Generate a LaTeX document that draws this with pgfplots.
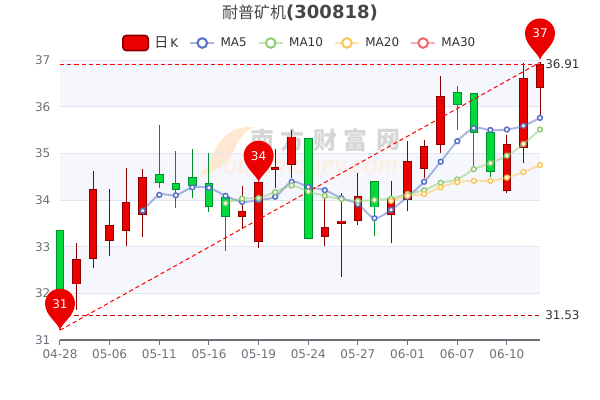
\documentclass[border=0pt]{standalone}
\usepackage{fontspec}
\usepackage{pgfplots}
\usepackage{pgfplotstable}
\pgfplotsset{compat=1.18}
\setmainfont{DejaVu Sans}
\newfontfamily\cjk{Noto Sans CJK SC}
\newfontfamily\wmserif{Liberation Serif}

\definecolor{upfill}{HTML}{EC0000}
\definecolor{upline}{HTML}{8A0000}
\definecolor{dnfill}{HTML}{00DA3C}
\definecolor{dnline}{HTML}{008F28}
\definecolor{maA}{HTML}{5470C6}
\definecolor{maB}{HTML}{91CC75}
\definecolor{maC}{HTML}{FAC858}
\definecolor{maD}{HTML}{EE6666}
\definecolor{gridc}{HTML}{E0E6F1}
\definecolor{bandc}{HTML}{F5F7FC}
\definecolor{axisc}{HTML}{6E7079}
\definecolor{titlec}{HTML}{464646}
\definecolor{textc}{HTML}{333333}

% i top bottom low high
\pgfplotstableread{
i top bot low high
1 32.73 32.19 31.64 33.08
2 34.24 32.74 32.55 34.62
3 33.46 33.13 32.81 34.24
4 33.96 33.33 33.02 34.69
5 34.49 33.68 33.21 34.66
11 33.77 33.64 33.37 34.31
12 34.39 33.10 32.98 34.39
13 34.71 34.64 34.25 35.10
14 35.36 34.75 34.47 35.50
16 33.43 33.20 33.02 34.20
17 33.56 33.49 32.36 34.15
18 34.09 33.55 33.46 34.57
20 34.04 33.68 33.08 34.40
21 34.83 34.01 33.76 35.26
22 35.16 34.66 34.47 35.29
23 36.23 35.18 35.01 36.66
27 35.20 34.20 34.14 35.39
28 36.61 35.11 34.80 36.93
29 36.91 36.41 35.70 36.95
}\upcandles
\pgfplotstableread{
i top bot low high
0 33.36 31.53 31.21 33.36
6 34.56 34.37 34.25 35.61
7 34.36 34.21 33.83 35.05
8 34.50 34.31 34.04 35.09
9 34.36 33.86 33.75 35.00
10 34.06 33.64 32.91 34.10
15 35.32 33.17 33.17 35.32
19 34.40 33.84 33.23 34.40
24 36.31 36.04 35.50 36.44
25 36.29 35.44 34.71 36.29
26 35.45 34.60 34.50 35.45
}\dncandles

\pgfdeclareplotmark{pin}{%
  \pgfpathmoveto{\pgfqpoint{0pt}{0pt}}%
  \pgfpathcurveto{\pgfqpoint{-0.9pt}{5pt}}{\pgfqpoint{-11.25pt}{11pt}}{\pgfqpoint{-11.25pt}{19.9pt}}%
  \pgfpatharc{180}{0}{11.25pt}%
  \pgfpathcurveto{\pgfqpoint{11.25pt}{11pt}}{\pgfqpoint{0.9pt}{5pt}}{\pgfqpoint{0pt}{0pt}}%
  \pgfpathclose
  \pgfusepathqfill
}

\pgfplotsset{
  ma/.style={forget plot, smooth, line width=1.5pt, draw=#1, draw opacity=0.5, mark=*, mark size=1.8pt,
    mark options={solid, draw=#1, draw opacity=1, fill=white, line width=1.1pt}},
  malegend/.style={legend image code/.code={
    \draw[#1, line width=1.5pt, draw opacity=0.5] (0pt,0pt) -- (18pt,0pt);
    \draw[#1, line width=1.5pt, fill=white] (9pt,0pt) circle (3.6pt);}},
  wick/.style={forget plot, draw=none, mark=none, error bars/.cd, y dir=minus, y explicit, error mark=none,
    error bar style={solid, draw=#1, line width=0.75pt}},
  body/.style 2 args={forget plot, draw=none, mark=none, error bars/.cd, y dir=minus, y explicit, error mark=none,
    error bar style={solid, draw=#1, line width=#2}},
}

\begin{document}
\begin{tikzpicture}
\begin{scope}[x=0.75pt, y=-0.75pt, shift={(-45pt,255pt)}]
  \path[use as bounding box] (0,0) rectangle (600,400);
  \fill[bandc] (60,60) rectangle (540,106.67);
  \fill[bandc] (60,153.33) rectangle (540,200);
  \fill[bandc] (60,246.67) rectangle (540,293.33);
  % watermark
  \fill[orange!18!white] (255,127) .. controls (232,126) and (222,136) .. (214,152)
     .. controls (210,163) and (206,171) .. (199,175)
     .. controls (222,172) and (231,158) .. (236,146)
     .. controls (240,137) and (246,130) .. (255,127) -- cycle;
  \foreach \xx/\ch in {262/南,292/方,325/财,355/富,388/网}
    \node[text=black!16, font=\cjk\bfseries\fontsize{18}{20}\selectfont] at (\xx,140) {\ch};
  \node[text=orange!14!white, font=\wmserif\itshape\fontsize{21}{24}\selectfont, anchor=east] at (403,167) {outhmoney.com};
  % title
  \node[text=titlec, inner sep=0pt] at (300,13) {{\cjk\fontsize{12}{14}\selectfont 耐普矿机}{\fontsize{13.5}{15}\selectfont\bfseries (300818)}};
\end{scope}
\begin{axis}[
  scale only axis,
  width=360pt, height=210pt,
  xmin=0, xmax=29, ymin=31, ymax=37,
  clip=false,
  axis x line=bottom, axis y line=left,
  axis line style={-},
  x axis line style={draw=axisc, line width=0.75pt},
  y axis line style={draw=none},
  xtick={0,3,...,27},
  xticklabels={04-28,05-06,05-11,05-16,05-19,05-24,05-27,06-01,06-07,06-10},
  ytick={31,32,...,37},
  ymajorgrids,
  grid style={gridc, line width=0.75pt},
  tick align=outside,
  major tick length=3.75pt,
  x tick style={draw=axisc, line width=0.75pt},
  y tick style={draw=none},
  tick label style={text=axisc, font=\fontsize{9}{11}\selectfont},
  /pgf/number format/assume math mode=true,
  legend style={at={(0.5,1.0607)}, anchor=center, draw=none, fill=none, inner sep=0pt, outer sep=0pt,
    font=\fontsize{9}{11}\selectfont, text=textc,
    /tikz/every even column/.append style={column sep=6.25pt}},
  legend columns=5,
  legend cell align=left,
]
\addlegendimage{legend image code/.code={
  \draw[upline, fill=upfill, line width=1.3pt, rounded corners=2.5pt] (0pt,-5.6pt) rectangle (19pt,5.6pt);}}
\addlegendentry{\kern2pt{\cjk\fontsize{10.5}{11}\selectfont 日}\kern1.5pt K}
\addlegendimage{malegend=maA}\addlegendentry{\kern2pt MA5}
\addlegendimage{malegend=maB}\addlegendentry{\kern2pt MA10}
\addlegendimage{malegend=maC}\addlegendentry{\kern2pt MA20}
\addlegendimage{malegend=maD}\addlegendentry{\kern2pt MA30}

% candles: wick, border, fill
\addplot[wick=upline] table[x=i, y=high, y error minus expr=\thisrow{high}-\thisrow{low}] {\upcandles};
\addplot[body={upline}{6.4pt}] table[x=i, y=top, y error minus expr=\thisrow{top}-\thisrow{bot}] {\upcandles};
\addplot[body={upfill}{4.9pt}] table[x=i, y expr=\thisrow{top}-0.02, y error minus expr=\thisrow{top}-\thisrow{bot}-0.04] {\upcandles};
\addplot[wick=dnline] table[x=i, y=high, y error minus expr=\thisrow{high}-\thisrow{low}] {\dncandles};
\addplot[body={dnline}{6.4pt}] table[x=i, y=top, y error minus expr=\thisrow{top}-\thisrow{bot}] {\dncandles};
\addplot[body={dnfill}{4.9pt}] table[x=i, y expr=\thisrow{top}-0.02, y error minus expr=\thisrow{top}-\thisrow{bot}-0.04] {\dncandles};

% MA5
\addplot[ma=maA] coordinates {
(5,33.77)(6,34.11)(7,34.10)(8,34.27)(9,34.26)(10,34.09)(11,33.96)(12,34.00)(13,34.07)(14,34.39)
(15,34.28)(16,34.21)(17,34.04)(18,33.91)(19,33.61)(20,33.79)(21,34.07)(22,34.39)(23,34.82)(24,35.26)
(25,35.54)(26,35.50)(27,35.51)(28,35.59)(29,35.76)};
% MA10
\addplot[ma=maB] coordinates {
(10,33.93)(11,34.03)(12,34.04)(13,34.17)(14,34.31)(15,34.18)(16,34.09)(17,34.02)(18,33.98)(19,34.00)
(20,34.03)(21,34.13)(22,34.21)(23,34.37)(24,34.44)(25,34.66)(26,34.79)(27,34.95)(28,35.20)(29,35.51)};
% MA20
\addplot[ma=maC] coordinates {
(20,33.98)(21,34.09)(22,34.13)(23,34.27)(24,34.38)(25,34.41)(26,34.41)(27,34.48)(28,34.60)(29,34.75)};

% mark lines
\addplot[forget plot, red, line width=0.75pt, dash pattern=on 3.2pt off 2.2pt] coordinates {(0,36.91)(29,36.91)};
\addplot[forget plot, red!80!black, line width=0.75pt, dash pattern=on 3.2pt off 2.2pt] coordinates {(0,31.53)(29,31.53)};
\addplot[forget plot, red, line width=0.75pt, dash pattern=on 3.2pt off 2.2pt] coordinates {(0,31.21)(29,36.95)};
\node[anchor=west, text=textc, font=\fontsize{9}{11}\selectfont, inner sep=0pt, xshift=3.75pt] at (axis cs:29,36.91) {36.91};
\node[anchor=west, text=textc, font=\fontsize{9}{11}\selectfont, inner sep=0pt, xshift=3.75pt] at (axis cs:29,31.53) {31.53};

% pins
\addplot[forget plot, only marks, mark=pin, mark options={fill=upfill, draw=none},
  point meta=explicit symbolic, nodes near coords,
  every node near coord/.append style={anchor=center, yshift=19.9pt, text=white, font=\fontsize{9}{11}\selectfont, inner sep=0pt}]
  coordinates {(0,31.21)[31] (12,34.38)[34] (29,37.0)[37]};
\end{axis}
\end{tikzpicture}
\end{document}
